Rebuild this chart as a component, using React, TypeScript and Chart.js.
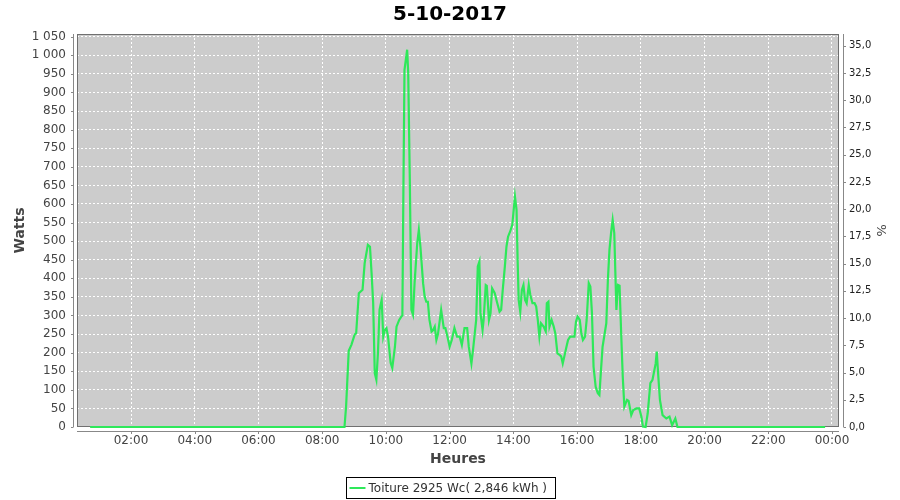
import React, { useEffect, useRef } from "react";
import { Chart, registerables } from "chart.js";

Chart.register(...registerables);

const FONT = "'DejaVu Sans', 'Liberation Sans', sans-serif";
const TITLE = "5-10-2017";
const SERIES_LABEL = "Toiture 2925 Wc( 2,846 kWh )";
const X_TITLE = "Heures";
const Y_TITLE = "Watts";
const Y2_TITLE = "%";
const LINE_COLOR = "#2ee85a";

const times: string[] = [
  "00:43", "02:00", "04:00", "06:00", "08:00", "08:42", "08:45", "08:50", "08:55", "09:01",
  "09:04", "09:09", "09:16", "09:20", "09:26", "09:30", "09:33", "09:36", "09:39", "09:42",
  "09:45", "09:48", "09:52", "09:55", "09:58", "10:01", "10:04", "10:09", "10:12", "10:17",
  "10:20", "10:25", "10:29", "10:31", "10:33", "10:35", "10:40", "10:42", "10:45", "10:48",
  "10:51", "10:54", "10:59", "11:02", "11:05", "11:10", "11:13", "11:16", "11:19", "11:22",
  "11:26", "11:29", "11:32", "11:35", "11:38", "11:44", "11:49", "11:52", "11:56", "12:00",
  "12:04", "12:09", "12:14", "12:19", "12:23", "12:28", "12:33", "12:36", "12:41", "12:44",
  "12:47", "12:50", "12:53", "12:56", "12:58", "13:02", "13:04", "13:08", "13:10", "13:14",
  "13:17", "13:20", "13:25", "13:29", "13:34", "13:37", "13:40", "13:44", "13:47", "13:50",
  "13:54", "13:58", "14:00", "14:03", "14:06", "14:08", "14:10", "14:13", "14:16", "14:19",
  "14:22", "14:25", "14:29", "14:32", "14:36", "14:40", "14:43", "14:46", "14:49", "14:52",
  "14:57", "15:01", "15:03", "15:06", "15:08", "15:12", "15:16", "15:19", "15:23", "15:27",
  "15:30", "15:33", "15:36", "15:40", "15:43", "15:47", "15:52", "15:55", "15:58", "16:01",
  "16:05", "16:08", "16:11", "16:15", "16:18", "16:22", "16:25", "16:28", "16:31", "16:35",
  "16:39", "16:42", "16:45", "16:48", "16:52", "16:55", "16:58", "17:01", "17:04", "17:07",
  "17:10", "17:14", "17:17", "17:20", "17:23", "17:26", "17:29", "17:34", "17:37", "17:42",
  "17:46", "17:52", "17:57", "18:01", "18:04", "18:09", "18:13", "18:18", "18:22", "18:28",
  "18:30", "18:33", "18:36", "18:41", "18:48", "18:54", "18:59", "19:05", "19:09", "20:00",
  "22:00", "23:47",
];

const watts: number[] = [
  0, 0, 0, 0, 0, 0, 55, 205, 221, 248,
  253, 360, 369, 441, 490, 485, 414, 334, 145, 127,
  199, 315, 342, 243, 261, 266, 243, 172, 159, 216,
  270, 288, 297, 300, 650, 961, 1015, 952, 665, 315,
  302, 388, 495, 530, 485, 387, 351, 337, 337, 288,
  257, 261, 270, 234, 250, 315, 266, 266, 243, 216,
  234, 266, 243, 243, 221, 266, 266, 216, 171, 207,
  248, 288, 432, 445, 307, 261, 288, 382, 380, 288,
  306, 373, 360, 337, 310, 315, 369, 432, 485, 512,
  526, 544, 575, 620, 584, 450, 342, 310, 369, 382,
  342, 333, 382, 355, 333, 333, 324, 288, 243, 279,
  270, 257, 333, 337, 270, 288, 270, 252, 198, 194,
  190, 171, 190, 216, 234, 243, 243, 243, 284, 297,
  288, 252, 234, 243, 288, 387, 378, 306, 162, 108,
  91, 86, 153, 216, 252, 279, 396, 477, 522, 557,
  522, 315, 382, 380, 252, 135, 55, 73, 70, 32,
  46, 50, 50, 28, 1, 0, 37, 118, 127, 171,
  203, 135, 73, 32, 23, 28, 5, 23, 0, 0,
  0, 0,
];

const xTickHours: number[] = [2, 4, 6, 8, 10, 12, 14, 16, 18, 20, 22, 24];
const xTickLabels: string[] = [
  "02:00", "04:00", "06:00", "08:00", "10:00", "12:00",
  "14:00", "16:00", "18:00", "20:00", "22:00", "00:00",
];
const yTickValues: number[] = [
  0, 50, 100, 150, 200, 250, 300, 350, 400, 450, 500, 550,
  600, 650, 700, 750, 800, 850, 900, 950, 1000, 1050,
];
const y2TickValues: number[] = [
  0, 2.5, 5, 7.5, 10, 12.5, 15, 17.5, 20, 22.5, 25, 27.5, 30, 32.5, 35,
];

const X_MIN = 0.305;
const X_MAX = 24.22;
const Y_MAX = 1057.3;
const Y2_MAX = 36.08;

const toHours = (t: string) => {
  const [h, m] = t.split(":").map(Number);
  return h + m / 60;
};

const fmtWatts = (v: number) =>
  v >= 1000 ? `${Math.floor(v / 1000)} ${String(v % 1000).padStart(3, "0")}` : String(v);

const jfreePlugin = {
  id: "jfreeDecor",
  beforeDraw(chart: any) {
    const { ctx, chartArea: a } = chart;
    ctx.save();
    ctx.fillStyle = "#cccccc";
    ctx.fillRect(a.left, a.top, a.right - a.left, a.bottom - a.top);
    ctx.restore();
  },
  beforeDatasetsDraw(chart: any) {
    const { ctx, chartArea: a } = chart;
    ctx.save();
    ctx.lineWidth = 1;
    ctx.strokeStyle = "#707070";
    ctx.strokeRect(a.left + 0.5, a.top + 0.5, a.right - a.left - 1, a.bottom - a.top - 1);
    ctx.restore();
  },
  afterDraw(chart: any) {
    const { ctx, chartArea: a } = chart;
    ctx.save();
    ctx.lineWidth = 1;
    ctx.strokeStyle = "#888888";
    const ys = chart.scales.y;
    const y2 = chart.scales.y1;
    const xs = chart.scales.x;
    ctx.beginPath();
    const lx = Math.round(a.left - 4) + 0.5;
    ctx.moveTo(lx, a.top);
    ctx.lineTo(lx, a.bottom);
    ys.ticks.forEach((t: any) => {
      const py = Math.round(ys.getPixelForValue(t.value)) + 0.5;
      ctx.moveTo(lx - 2.5, py);
      ctx.lineTo(lx, py);
    });
    const rx = Math.round(a.right + 4) + 0.5;
    ctx.moveTo(rx, a.top);
    ctx.lineTo(rx, a.bottom);
    y2.ticks.forEach((t: any) => {
      const py = Math.round(y2.getPixelForValue(t.value)) + 0.5;
      ctx.moveTo(rx, py);
      ctx.lineTo(rx + 2.5, py);
    });
    const by = Math.round(a.bottom + 4) + 0.5;
    ctx.moveTo(a.left, by);
    ctx.lineTo(a.right, by);
    xs.ticks.forEach((t: any) => {
      const px = Math.round(xs.getPixelForValue(t.value)) + 0.5;
      ctx.moveTo(px, by);
      ctx.lineTo(px, by + 2.5);
    });
    ctx.stroke();

    // legend
    const ds = chart.data.datasets[0];
    ctx.font = `12px ${FONT}`;
    const tw = ctx.measureText(ds.label).width;
    const bw = Math.round(tw + 30);
    const bh = 21;
    const bx = Math.round(chart.width / 2 - bw / 2) + 0.5;
    const byy = 477.5;
    ctx.strokeStyle = "#000000";
    ctx.strokeRect(bx, byy, bw, bh);
    ctx.strokeStyle = ds.borderColor;
    ctx.lineWidth = 2;
    ctx.beginPath();
    ctx.moveTo(bx + 3, byy + bh / 2);
    ctx.lineTo(bx + 19, byy + bh / 2);
    ctx.stroke();
    ctx.fillStyle = "#333333";
    ctx.textBaseline = "middle";
    ctx.textAlign = "left";
    ctx.fillText(ds.label, bx + 22, byy + bh / 2 + 0.5);
    ctx.restore();
  },
};

export default function App() {
  const ref = useRef<HTMLCanvasElement | null>(null);

  useEffect(() => {
    if (!ref.current) return;
    const points = times.map((t, i) => ({ x: toHours(t), y: watts[i] }));
    const chart = new Chart(ref.current, {
      type: "line",
      data: {
        datasets: [
          {
            label: SERIES_LABEL,
            data: points,
            borderColor: LINE_COLOR,
            backgroundColor: LINE_COLOR,
            borderWidth: 2.2,
            pointRadius: 0,
            tension: 0,
            fill: false,
            yAxisID: "y",
            clip: 3,
          },
        ],
      },
      options: {
        animation: false,
        responsive: true,
        maintainAspectRatio: false,
        layout: { padding: 0 },
        plugins: {
          legend: { display: false },
          tooltip: { enabled: false },
          title: {
            display: true,
            text: TITLE,
            color: "#000000",
            font: { family: FONT, size: 20, weight: "bold" },
            padding: { top: 3, bottom: 7 },
          },
        },
        scales: {
          x: {
            type: "linear",
            min: X_MIN,
            max: X_MAX,
            afterBuildTicks: (s: any) => {
              s.ticks = xTickHours.map((v) => ({ value: v }));
            },
            afterFit: (s: any) => {
              s.height = 73;
            },
            ticks: {
              autoSkip: false,
              maxRotation: 0,
              padding: 7,
              color: "#444444",
              font: { family: FONT, size: 12 },
              callback: (_v: any, i: number) => xTickLabels[i],
            },
            grid: { color: "#ffffff", lineWidth: 1, drawTicks: false },
            border: { display: false, dash: [2, 2] },
            title: {
              display: true,
              text: X_TITLE,
              color: "#444444",
              font: { family: FONT, size: 14, weight: "bold" },
              padding: { top: 0, bottom: 32 },
            },
          },
          y: {
            type: "linear",
            position: "left",
            min: 0,
            max: Y_MAX,
            afterBuildTicks: (s: any) => {
              s.ticks = yTickValues.map((v) => ({ value: v }));
            },
            afterFit: (s: any) => {
              s.width = 77;
            },
            ticks: {
              autoSkip: false,
              padding: 11,
              color: "#444444",
              font: { family: FONT, size: 12 },
              callback: (_v: any, i: number) => fmtWatts(yTickValues[i]),
            },
            grid: { color: "#ffffff", lineWidth: 1, drawTicks: false },
            border: { display: false, dash: [2, 2] },
            title: {
              display: true,
              text: Y_TITLE,
              color: "#444444",
              font: { family: FONT, size: 14, weight: "bold" },
              padding: { top: 12, bottom: 0 },
            },
          },
          y1: {
            type: "linear",
            position: "right",
            min: 0,
            max: Y2_MAX,
            afterBuildTicks: (s: any) => {
              s.ticks = y2TickValues.map((v) => ({ value: v }));
            },
            afterFit: (s: any) => {
              s.width = 61;
            },
            ticks: {
              autoSkip: false,
              padding: 10,
              color: "#222222",
              font: { family: FONT, size: 10 },
              callback: (_v: any, i: number) => y2TickValues[i].toFixed(1).replace(".", ","),
            },
            grid: { display: false, drawTicks: false },
            border: { display: false },
            title: {
              display: true,
              text: Y2_TITLE,
              color: "#444444",
              font: { family: FONT, size: 13 },
              padding: { top: 12, bottom: 0 },
            },
          },
        },
      },
      plugins: [jfreePlugin],
    } as any);
    return () => chart.destroy();
  }, []);

  return (
    <div style={{ position: "fixed", left: 0, top: 0, width: 900, height: 500, background: "#ffffff" }}>
      <canvas ref={ref} />
    </div>
  );
}
